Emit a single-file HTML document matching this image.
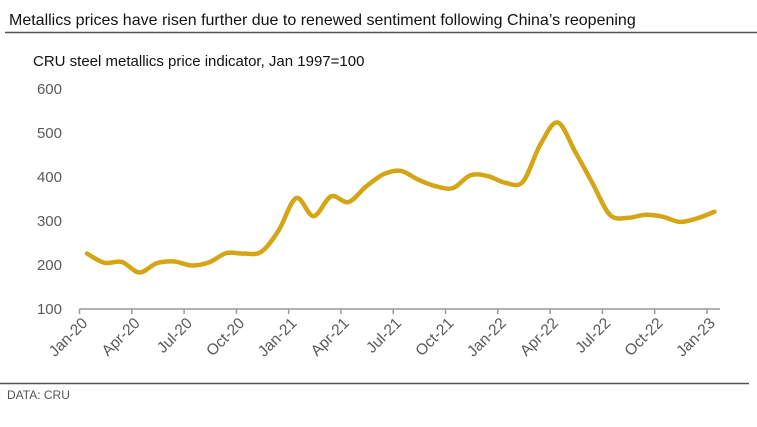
<!DOCTYPE html>
<html><head><meta charset="utf-8"><style>
html,body{margin:0;padding:0;background:#fff;}
svg{display:block;font-family:"Liberation Sans",Arial,sans-serif;}
</style></head><body>
<svg id="chart" width="757" height="427" viewBox="0 0 757 427">
<text x="9" y="25" font-size="16" fill="#111">Metallics prices have risen further due to renewed sentiment following China’s reopening</text>
<line x1="5" y1="32.5" x2="757" y2="32.5" stroke="#555" stroke-width="1.5"/>
<text x="33" y="66" font-size="15" fill="#111">CRU steel metallics price indicator, Jan 1997=100</text>
<g id="yaxis"></g>
<g id="xaxis"></g>
<path id="line" fill="none" stroke="#D4A514" stroke-width="4.5" stroke-linejoin="round" stroke-linecap="round"/>
<line x1="0" y1="383.5" x2="749" y2="383.5" stroke="#555" stroke-width="1.5"/>
<text x="7" y="399" font-size="12" fill="#555">DATA: CRU</text>
</svg>
<script>
const yTicks=[100,200,300,400,500,600];
const xTickLabels=["Jan-20","Apr-20","Jul-20","Oct-20","Jan-21","Apr-21","Jul-21","Oct-21","Jan-22","Apr-22","Jul-22","Oct-22","Jan-23"];
const values=[226,205,207,183,204,208,199,206,227,226,230,279,352,311,356,343,378,406,414,394,379,375,404,402,387,389,473,524,458,386,314,307,314,310,298,306,321];
const startOffset=0.43;
const NS="http://www.w3.org/2000/svg";
const x0=79.5,monthW=17.43,y100=309,pxPerUnit=0.44;
function xScale(m){return x0+m*monthW;}
function yScale(v){return y100-(v-100)*pxPerUnit;}
function mk(tag,attrs,parent){const e=document.createElementNS(NS,tag);for(const k in attrs)e.setAttribute(k,attrs[k]);parent.appendChild(e);return e;}
const ya=document.getElementById('yaxis');
yTicks.forEach(t=>{const e=mk('text',{x:62,y:yScale(t)+5,'text-anchor':'end','font-size':15,fill:'#595959'},ya);e.textContent=t;

});
const xa=document.getElementById('xaxis');
const axEnd=720;
const al=mk('line',{x1:xScale(0),y1:y100,x2:axEnd,y2:y100,stroke:'#999','stroke-width':1.5},xa);


xTickLabels.forEach((l,i)=>{const x=xScale(i*3);
const tk=mk('line',{x1:x,y1:y100,x2:x,y2:y100+5,stroke:'#999','stroke-width':1.5},xa);


const tx=mk('text',{x:x+9,y:y100+15,'text-anchor':'end','font-size':15.5,fill:'#595959',transform:`rotate(-45 ${x+9} ${y100+15})`},xa);tx.textContent=l;

});
const pts=values.map((v,i)=>[xScale(i+startOffset),yScale(v)]);
let d=`M${pts[0][0]},${pts[0][1]}`;
for(let i=0;i<pts.length-1;i++){const p0=pts[i-1]||pts[i],p1=pts[i],p2=pts[i+1],p3=pts[i+2]||p2;
const c1=[p1[0]+(p2[0]-p0[0])/6,p1[1]+(p2[1]-p0[1])/6],c2=[p2[0]-(p3[0]-p1[0])/6,p2[1]-(p3[1]-p1[1])/6];
d+=` C${c1[0]},${c1[1]} ${c2[0]},${c2[1]} ${p2[0]},${p2[1]}`;}
document.getElementById('line').setAttribute('d',d);
</script>
</body></html>
